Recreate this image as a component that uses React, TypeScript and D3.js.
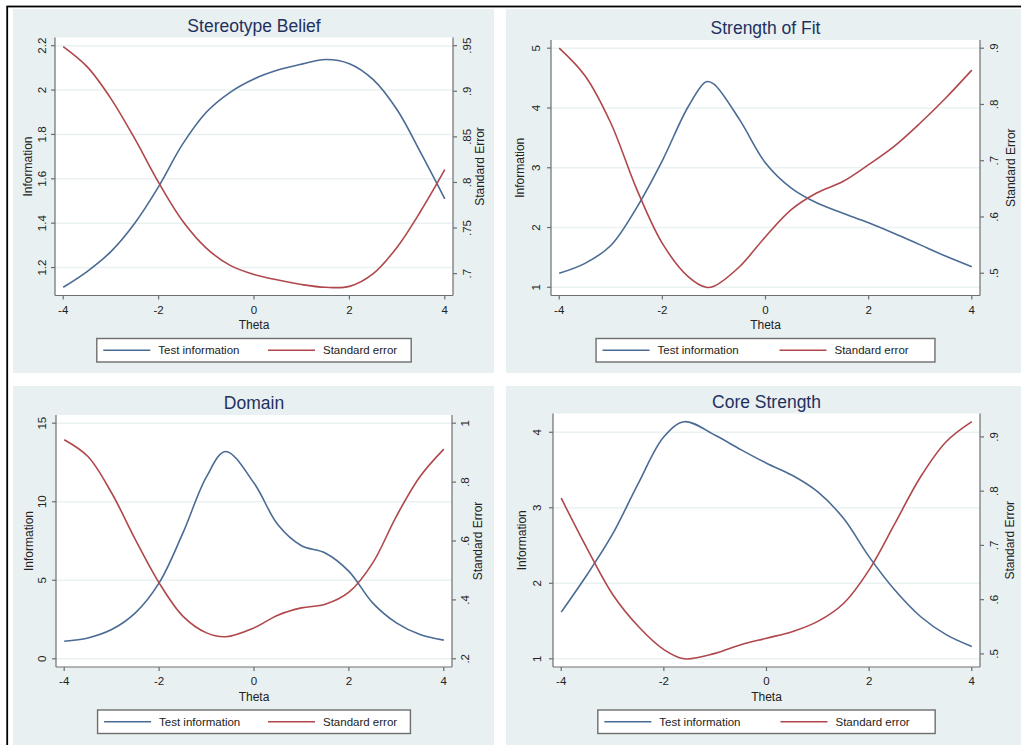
import React from 'react';
import * as d3 from 'd3';

// ---------- data ----------
const xTicks = [-4, -2, 0, 2, 4];
const legendLabels = ['Test information', 'Standard error'];
const xTitle = 'Theta';
const yLeftTitle = 'Information';
const yRightTitle = 'Standard Error';

// Stereotype Belief
const sbTheta = [-4, -3.5, -3, -2.5, -2, -1.5, -1, -0.5, 0, 0.5, 1, 1.5, 2, 2.5, 3, 3.5, 4];
const sbInfo = [1.111, 1.182, 1.272, 1.4, 1.565, 1.755, 1.9, 1.99, 2.05, 2.09, 2.117, 2.138, 2.119, 2.047, 1.911, 1.716, 1.51];
const sbSE = [0.949, 0.927, 0.892, 0.848, 0.8, 0.758, 0.728, 0.709, 0.699, 0.693, 0.688, 0.685, 0.686, 0.7, 0.729, 0.769, 0.814];
const sbInfoTicks = [1.2, 1.4, 1.6, 1.8, 2, 2.2];
const sbSETicks = [0.7, 0.75, 0.8, 0.85, 0.9, 0.95];

// Strength of Fit
const sfTheta = [-4, -3.5, -3, -2.5, -2, -1.5, -1.15, -1, -0.5, 0, 0.5, 1, 1.5, 2, 2.5, 3, 3.5, 4];
const sfInfo = [1.234, 1.4, 1.7, 2.33, 3.12, 4.02, 4.44, 4.4, 3.8, 3.08, 2.66, 2.41, 2.24, 2.08, 1.9, 1.71, 1.52, 1.345];
const sfSE = [0.9, 0.851, 0.767, 0.65, 0.553, 0.494, 0.475, 0.477, 0.512, 0.565, 0.613, 0.643, 0.663, 0.693, 0.726, 0.767, 0.812, 0.861];
const sfInfoTicks = [1, 2, 3, 4, 5];
const sfSETicks = [0.5, 0.6, 0.7, 0.8, 0.9];

// Domain
const dmTheta = [-4, -3.5, -3, -2.5, -2, -1.5, -1, -0.6, 0, 0.5, 1, 1.5, 2, 2.5, 3, 3.5, 4];
const dmInfo = [1.12, 1.33, 1.86, 2.92, 4.83, 8.0, 11.6, 13.2, 11.19, 8.55, 7.2, 6.74, 5.57, 3.56, 2.29, 1.55, 1.19];
const dmSE = [0.944, 0.887, 0.763, 0.605, 0.458, 0.345, 0.288, 0.275, 0.305, 0.348, 0.373, 0.385, 0.426, 0.525, 0.684, 0.819, 0.912];
const dmInfoTicks = [0, 5, 10, 15];
const dmSETicks = [0.2, 0.4, 0.6, 0.8, 1];

// Core Strength
const csTheta = [-4, -3.5, -3, -2.5, -2, -1.6, -1, -0.5, 0, 0.5, 1, 1.5, 2, 2.5, 3, 3.5, 4];
const csInfo = [1.618, 2.11, 2.65, 3.32, 3.94, 4.14, 3.96, 3.77, 3.59, 3.43, 3.21, 2.86, 2.35, 1.91, 1.56, 1.32, 1.163];
const csSE = [0.787, 0.695, 0.61, 0.551, 0.508, 0.491, 0.501, 0.517, 0.529, 0.541, 0.56, 0.593, 0.655, 0.74, 0.826, 0.891, 0.928];
const csInfoTicks = [1, 2, 3, 4];
const csSETicks = [0.5, 0.6, 0.7, 0.8, 0.9];

// ---------- style ----------
const BLUE = '#4a6b94';
const RED = '#b0474c';
const BG = '#e8f0f1';
const GRID = '#eaf1f2';
const AXIS = '#6e6e6e';
const TITLE = '#1f3060';
const TEXT = '#222';
const FONT = '"Liberation Sans", Arial, Helvetica, sans-serif';

const fmt = (v: number) => {
  const s = d3.format('~g')(v).replace('\u2212', '-');
  return s.replace(/^0\./, '.');
};

type Layout = {
  bx: number; by: number; bw: number; bh: number;
  l: number; t: number; r: number; b: number;
  lLab: number; lTit: number; rLab: number; rTit: number;
};

function Panel(props: {
  title: string; theta: number[]; info: number[]; se: number[];
  infoTicks: number[]; seTicks: number[]; layout: Layout;
}) {
  const { title, theta, info, se, infoTicks, seTicks, layout } = props;
  const { bx, by, bw, bh, l, t, r, b, lLab, lTit, rLab, rTit } = layout;
  const m = 8.2;
  const x = d3.scaleLinear().domain(d3.extent([...theta, ...xTicks]) as [number, number]).range([l + m, r - m]);
  const yL = d3.scaleLinear().domain(d3.extent([...info, ...infoTicks]) as [number, number]).range([b - m, t + m]);
  const yR = d3.scaleLinear().domain(d3.extent([...se, ...seTicks]) as [number, number]).range([b - m, t + m]);
  const curve = d3.curveCatmullRom.alpha(0.5);
  const lineL = d3.line<number>().x((_, i) => x(theta[i])).y((d) => yL(d)).curve(curve);
  const lineR = d3.line<number>().x((_, i) => x(theta[i])).y((d) => yR(d)).curve(curve);
  const fsTick = 11.5;
  const fsTitle = 12;
  const cx = (l + r) / 2;
  const legW = 0.79 * (r - l);
  const legL = cx - legW / 2;
  const legT = b + 43;
  const legH = 23.5;
  const legCy = legT + legH / 2;
  const cols = [legL + 6.5, legL + legW / 2 + 14];
  const colors = [BLUE, RED];
  return (
    <g fontFamily={FONT}>
      <rect x={bx} y={by} width={bw} height={bh} fill={BG} />
      <rect x={l} y={t} width={r - l} height={b - t} fill="#fff" />
      {infoTicks.map((v) => (
        <line key={'g' + v} x1={l} x2={r} y1={yL(v)} y2={yL(v)} stroke={GRID} strokeWidth={1.5} />
      ))}
      <path d={lineL(info) || ''} fill="none" stroke={BLUE} strokeWidth={1.6} />
      <path d={lineR(se) || ''} fill="none" stroke={RED} strokeWidth={1.6} />
      <line x1={l} x2={l} y1={t} y2={b} stroke={AXIS} strokeWidth={1.2} />
      <line x1={r} x2={r} y1={t} y2={b} stroke={AXIS} strokeWidth={1.2} />
      <line x1={l} x2={r} y1={b} y2={b} stroke={AXIS} strokeWidth={1.2} />
      {infoTicks.map((v) => (
        <g key={'l' + v}>
          <line x1={l - 4} x2={l} y1={yL(v)} y2={yL(v)} stroke={AXIS} strokeWidth={1.2} />
          <text transform={`translate(${l - lLab + 0.36 * fsTick},${yL(v)}) rotate(-90)`} textAnchor="middle" fontSize={fsTick} fill={TEXT}>{fmt(v)}</text>
        </g>
      ))}
      {seTicks.map((v) => (
        <g key={'r' + v}>
          <line x1={r} x2={r + 4} y1={yR(v)} y2={yR(v)} stroke={AXIS} strokeWidth={1.2} />
          <text transform={`translate(${r + rLab + 0.36 * fsTick},${yR(v)}) rotate(-90)`} textAnchor="middle" fontSize={fsTick} fill={TEXT}>{fmt(v)}</text>
        </g>
      ))}
      {xTicks.map((v) => (
        <g key={'x' + v}>
          <line x1={x(v)} x2={x(v)} y1={b} y2={b + 4} stroke={AXIS} strokeWidth={1.2} />
          <text x={x(v)} y={b + 18.2} textAnchor="middle" fontSize={fsTick} fill={TEXT}>{fmt(v)}</text>
        </g>
      ))}
      <text x={cx} y={b + 33.5} textAnchor="middle" fontSize={fsTitle} fill={TEXT}>{xTitle}</text>
      <text transform={`translate(${l - lTit + 0.36 * fsTitle},${(t + b) / 2}) rotate(-90)`} textAnchor="middle" fontSize={fsTitle} fill={TEXT}>{yLeftTitle}</text>
      <text transform={`translate(${r + rTit + 0.36 * fsTitle},${(t + b) / 2}) rotate(-90)`} textAnchor="middle" fontSize={fsTitle} fill={TEXT}>{yRightTitle}</text>
      <text x={cx} y={t - 6} textAnchor="middle" fontSize={17.5} fill={TITLE}>{title}</text>
      <rect x={legL} y={legT} width={legW} height={legH} fill="#fff" stroke={AXIS} strokeWidth={1.4} />
      {legendLabels.map((lab, i) => (
        <g key={lab}>
          <line x1={cols[i]} x2={cols[i] + 47} y1={legCy} y2={legCy} stroke={colors[i]} strokeWidth={1.6} />
          <text x={cols[i] + 55} y={legCy + 0.36 * fsTick} fontSize={fsTick} fill={TEXT}>{lab}</text>
        </g>
      ))}
    </g>
  );
}

const layouts: Layout[] = [
  { bx: 13, by: 9, bw: 481, bh: 364, l: 55, t: 37.5, r: 453, b: 295.5, lLab: 13.5, lTit: 27.5, rLab: 13.7, rTit: 27 },
  { bx: 506, by: 9, bw: 515, bh: 364, l: 551, t: 40, r: 980, b: 295.5, lLab: 15.3, lTit: 31, rLab: 14, rTit: 31 },
  { bx: 13, by: 386, bw: 481, bh: 359, l: 56, t: 415, r: 452, b: 667, lLab: 14.3, lTit: 27.7, rLab: 13, rTit: 26 },
  { bx: 506, by: 386, bw: 515, bh: 359, l: 553, t: 413.5, r: 980, b: 667, lLab: 16.3, lTit: 31.3, rLab: 14, rTit: 30 },
];

export default function App() {
  return (
    <svg width={1021} height={745} style={{ position: 'absolute', left: 0, top: 0, background: '#fff' }}>
      <rect x={7.2} y={6.5} width={1100} height={800} fill="none" stroke="#000" strokeWidth={1.8} />
      <Panel title="Stereotype Belief" theta={sbTheta} info={sbInfo} se={sbSE} infoTicks={sbInfoTicks} seTicks={sbSETicks} layout={layouts[0]} />
      <Panel title="Strength of Fit" theta={sfTheta} info={sfInfo} se={sfSE} infoTicks={sfInfoTicks} seTicks={sfSETicks} layout={layouts[1]} />
      <Panel title="Domain" theta={dmTheta} info={dmInfo} se={dmSE} infoTicks={dmInfoTicks} seTicks={dmSETicks} layout={layouts[2]} />
      <Panel title="Core Strength" theta={csTheta} info={csInfo} se={csSE} infoTicks={csInfoTicks} seTicks={csSETicks} layout={layouts[3]} />
    </svg>
  );
}
